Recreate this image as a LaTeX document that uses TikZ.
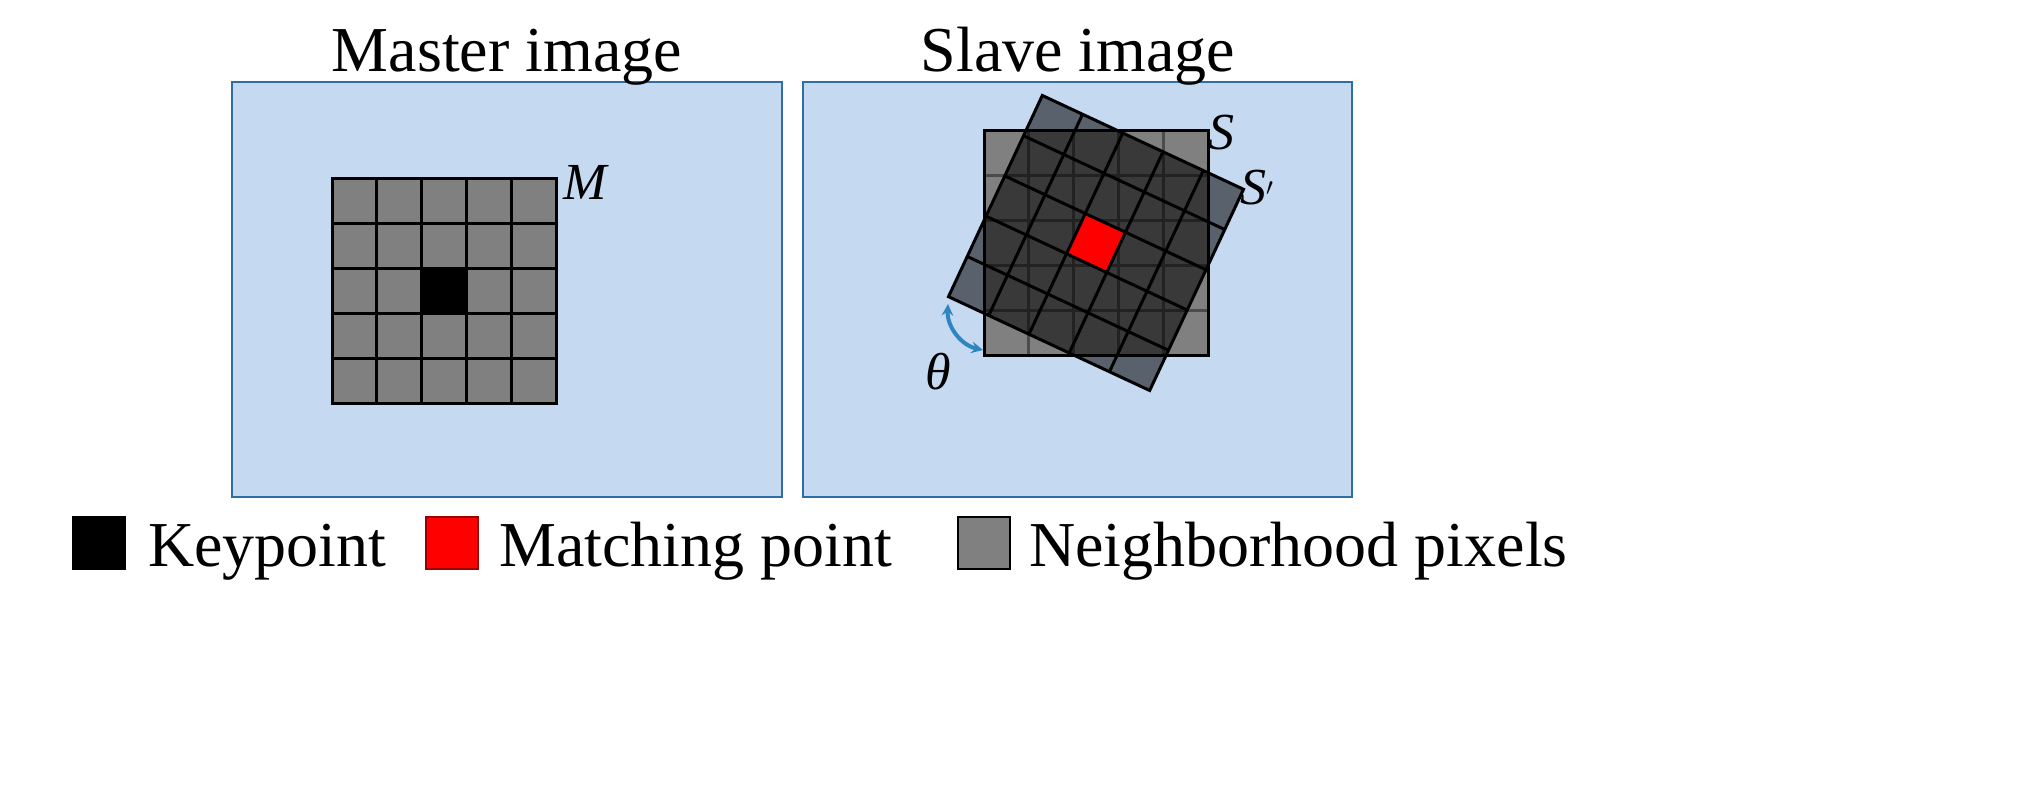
\documentclass[tikz,border=0pt]{standalone}
\usepackage{fontspec}
\setmainfont{Liberation Serif}
\begin{document}
\begin{tikzpicture}[x=1pt,y=-1pt,
  panel/.style={draw=panelborder,fill=panelfill,line width=2.5pt},
  cellgrid/.style={draw=black,line width=3pt},
  lbl/.style={font=\fontsize{64}{64}\selectfont,inner sep=0pt,anchor=base west},
  title/.style={font=\fontsize{64}{64}\selectfont,inner sep=0pt,anchor=base},
  mathlbl/.style={font=\fontsize{52}{52}\selectfont,inner sep=0pt},
  legsq/.style={minimum width=52pt,minimum height=52pt,inner sep=0pt,draw=black,line width=2pt}]
\definecolor{panelfill}{HTML}{C5D9F1}
\definecolor{panelborder}{HTML}{2F6EA5}
\definecolor{cellgray}{HTML}{808080}
\definecolor{overlay}{HTML}{9AA6B4}
\definecolor{thetablue}{HTML}{2E86C1}
\useasboundingbox (0,0) rectangle (2019,786);
% panels
\draw[panel] (232,82) rectangle (782,497);
\draw[panel] (803,82) rectangle (1352,497);
\node[title] (t1) at (507,72) {Master image};
\node[title] (t2) at (1078,72) {Slave image};
% master grid
\fill[cellgray] (332,179) rectangle (556,403);
\fill[black] (421.6,268.6) rectangle (466.4,313.4);
\foreach \i in {1,...,4}{
  \draw[cellgrid] ({332+44.8*\i},179) -- ({332+44.8*\i},403);
  \draw[cellgrid] (332,{179+44.8*\i}) -- (556,{179+44.8*\i});
}
\draw[cellgrid] (332,179) rectangle (556,403);
\node[mathlbl,anchor=south west] (M) at (563,200) {\itshape M};
% slave grid S
\fill[cellgray] (984,131) rectangle (1208,355);
\foreach \i in {1,...,4}{
  \draw[black!70,line width=3pt] ({984+44.8*\i},131) -- ({984+44.8*\i},355);
  \draw[black!70,line width=3pt] (984,{131+44.8*\i}) -- (1208,{131+44.8*\i});
}
\draw[cellgrid] (984,131) rectangle (1208,355);
% rotated grid S'
\begin{scope}[shift={(1096,243)},rotate=-25]
  \fill[overlay,fill opacity=0.55] (-111,-111) rectangle (111,111);
  \fill[red] (-22.2,-22.2) rectangle (22.2,22.2);
  \foreach \i in {1,...,4}{
    \draw[cellgrid] ({-111+44.4*\i},-111) -- ({-111+44.4*\i},111);
    \draw[cellgrid] (-111,{-111+44.4*\i}) -- (111,{-111+44.4*\i});
  }
  \draw[cellgrid] (-111,-111) rectangle (111,111);
\end{scope}
\node[mathlbl,anchor=south west] (S) at (1208,150) {\itshape S};
\node[mathlbl,anchor=south west] (Sp) at (1240,205) {\itshape S$'$};
% theta
\coordinate (ta) at (948,304);
\coordinate (tb) at (983,350);
\draw[thetablue,line width=4pt,<->,>=stealth] (ta) to[bend right=40] (tb);
\node[mathlbl] (th) at (938,372) {\itshape θ};
% legend
\node[legsq,fill=black] (k) at (99,543) {};
\node[lbl] (kt) at (148,566) {Keypoint};
\node[legsq,fill=red,draw=red!60!black] (r) at (452,543) {};
\node[lbl] (rt) at (499,566) {Matching point};
\node[legsq,fill=cellgray] (g) at (984,543) {};
\node[lbl] (gt) at (1029,566) {Neighborhood pixels};
\end{tikzpicture}
\end{document}
